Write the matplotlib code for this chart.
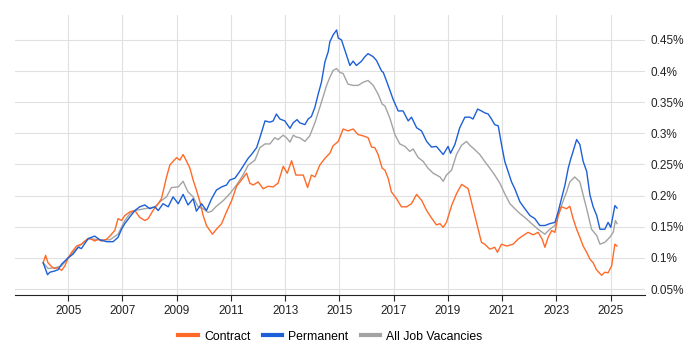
import matplotlib
matplotlib.use('Agg')
import matplotlib.pyplot as plt
from matplotlib.ticker import FixedLocator, FuncFormatter

plt.rcParams['font.family'] = ['Liberation Sans', 'DejaVu Sans']

# values (percent of all IT job ads)
contract_years = [2004.08, 2004.17, 2004.26, 2004.39, 2004.51, 2004.63, 2004.76, 2004.88, 2005.00, 2005.13,
                  2005.31, 2005.49, 2005.62, 2005.74, 2005.86, 2005.98, 2006.11, 2006.23, 2006.42, 2006.54,
                  2006.72, 2006.84, 2006.97, 2007.09, 2007.28, 2007.46, 2007.64, 2007.83, 2007.95, 2008.13,
                  2008.32, 2008.44, 2008.63, 2008.75, 2008.87, 2009.00, 2009.12, 2009.24, 2009.37, 2009.49,
                  2009.61, 2009.73, 2009.86, 2009.98, 2010.10, 2010.32, 2010.47, 2010.66, 2010.84, 2011.03,
                  2011.21, 2011.39, 2011.58, 2011.70, 2011.82, 2012.01, 2012.19, 2012.37, 2012.56, 2012.74,
                  2012.93, 2013.08, 2013.24, 2013.40, 2013.48, 2013.67, 2013.83, 2013.97, 2014.10, 2014.28,
                  2014.47, 2014.65, 2014.77, 2014.96, 2015.14, 2015.32, 2015.51, 2015.69, 2015.88, 2016.06,
                  2016.19, 2016.31, 2016.43, 2016.58, 2016.68, 2016.80, 2016.92, 2017.11, 2017.29, 2017.48,
                  2017.66, 2017.85, 2018.04, 2018.22, 2018.40, 2018.58, 2018.71, 2018.83, 2018.95, 2019.14,
                  2019.32, 2019.51, 2019.69, 2019.75, 2019.87, 2020.06, 2020.24, 2020.36, 2020.55, 2020.73,
                  2020.83, 2020.98, 2021.17, 2021.41, 2021.59, 2021.78, 2021.96, 2022.15, 2022.33, 2022.48,
                  2022.58, 2022.70, 2022.83, 2022.95, 2023.07, 2023.19, 2023.38, 2023.50, 2023.62, 2023.75,
                  2023.87, 2023.99, 2024.12, 2024.24, 2024.36, 2024.48, 2024.67, 2024.79, 2024.91, 2025.04,
                  2025.16, 2025.24]
contract_vals = [0.092, 0.104, 0.092, 0.086, 0.083, 0.084, 0.080, 0.087, 0.100, 0.109,
                 0.119, 0.122, 0.127, 0.131, 0.130, 0.127, 0.130, 0.127, 0.130, 0.135,
                 0.144, 0.163, 0.160, 0.168, 0.174, 0.176, 0.165, 0.160, 0.163, 0.176,
                 0.187, 0.195, 0.230, 0.249, 0.255, 0.261, 0.257, 0.266, 0.255, 0.244,
                 0.225, 0.209, 0.190, 0.168, 0.152, 0.138, 0.146, 0.155, 0.174, 0.192,
                 0.215, 0.225, 0.236, 0.220, 0.217, 0.222, 0.211, 0.215, 0.214, 0.220,
                 0.247, 0.236, 0.256, 0.233, 0.233, 0.233, 0.213, 0.233, 0.230, 0.249,
                 0.260, 0.268, 0.280, 0.287, 0.307, 0.304, 0.307, 0.298, 0.296, 0.293,
                 0.278, 0.277, 0.266, 0.244, 0.241, 0.228, 0.206, 0.195, 0.182, 0.182,
                 0.187, 0.202, 0.192, 0.176, 0.164, 0.153, 0.155, 0.149, 0.157, 0.184,
                 0.203, 0.218, 0.213, 0.211, 0.190, 0.157, 0.125, 0.122, 0.114, 0.117,
                 0.109, 0.122, 0.119, 0.122, 0.130, 0.136, 0.141, 0.137, 0.141, 0.130,
                 0.117, 0.133, 0.144, 0.141, 0.168, 0.182, 0.179, 0.183, 0.163, 0.146,
                 0.133, 0.119, 0.109, 0.098, 0.092, 0.081, 0.072, 0.077, 0.076, 0.087,
                 0.122, 0.119]

perm_years = [2004.08, 2004.24, 2004.33, 2004.51, 2004.63, 2004.76, 2004.88, 2005.00, 2005.18, 2005.37,
              2005.49, 2005.74, 2005.98, 2006.17, 2006.42, 2006.66, 2006.84, 2006.97, 2007.09, 2007.28,
              2007.46, 2007.64, 2007.83, 2008.01, 2008.20, 2008.32, 2008.50, 2008.69, 2008.87, 2009.06,
              2009.24, 2009.42, 2009.61, 2009.73, 2009.92, 2010.10, 2010.29, 2010.47, 2010.66, 2010.84,
              2010.96, 2011.15, 2011.33, 2011.52, 2011.64, 2011.76, 2011.95, 2012.07, 2012.26, 2012.44,
              2012.56, 2012.68, 2012.81, 2012.99, 2013.18, 2013.30, 2013.44, 2013.54, 2013.73, 2013.85,
              2013.97, 2014.10, 2014.22, 2014.34, 2014.47, 2014.59, 2014.65, 2014.77, 2014.90, 2014.96,
              2015.08, 2015.20, 2015.39, 2015.51, 2015.63, 2015.82, 2015.94, 2016.06, 2016.25, 2016.37,
              2016.56, 2016.62, 2016.80, 2016.98, 2017.17, 2017.35, 2017.54, 2017.66, 2017.85, 2018.03,
              2018.22, 2018.40, 2018.58, 2018.83, 2019.01, 2019.10, 2019.26, 2019.44, 2019.63, 2019.81,
              2019.93, 2020.10, 2020.24, 2020.36, 2020.49, 2020.61, 2020.73, 2020.86, 2020.98, 2021.10,
              2021.22, 2021.35, 2021.47, 2021.66, 2021.84, 2022.03, 2022.21, 2022.39, 2022.58, 2022.76,
              2022.95, 2023.07, 2023.19, 2023.32, 2023.44, 2023.54, 2023.62, 2023.75, 2023.87, 2023.99,
              2024.12, 2024.24, 2024.36, 2024.49, 2024.61, 2024.79, 2024.91, 2025.01, 2025.16, 2025.24]
perm_vals = [0.092, 0.073, 0.077, 0.079, 0.081, 0.090, 0.095, 0.100, 0.106, 0.117,
             0.115, 0.131, 0.135, 0.129, 0.126, 0.126, 0.133, 0.146, 0.155, 0.166,
             0.176, 0.182, 0.185, 0.179, 0.182, 0.176, 0.187, 0.182, 0.198, 0.187,
             0.202, 0.185, 0.195, 0.175, 0.187, 0.176, 0.195, 0.209, 0.214, 0.217,
             0.225, 0.228, 0.239, 0.252, 0.260, 0.266, 0.277, 0.293, 0.320, 0.318,
             0.320, 0.331, 0.323, 0.320, 0.308, 0.317, 0.322, 0.317, 0.314, 0.323,
             0.327, 0.342, 0.363, 0.382, 0.415, 0.431, 0.447, 0.458, 0.466, 0.453,
             0.450, 0.434, 0.409, 0.416, 0.409, 0.416, 0.423, 0.428, 0.423, 0.417,
             0.400, 0.398, 0.377, 0.355, 0.336, 0.336, 0.320, 0.326, 0.309, 0.304,
             0.287, 0.278, 0.279, 0.266, 0.279, 0.268, 0.282, 0.309, 0.326, 0.326,
             0.323, 0.339, 0.336, 0.333, 0.331, 0.323, 0.314, 0.312, 0.282, 0.255,
             0.239, 0.222, 0.211, 0.190, 0.179, 0.168, 0.163, 0.152, 0.152, 0.155,
             0.157, 0.174, 0.195, 0.217, 0.244, 0.260, 0.271, 0.290, 0.282, 0.255,
             0.239, 0.201, 0.182, 0.168, 0.146, 0.146, 0.157, 0.149, 0.184, 0.180]

all_years = [2004.08, 2004.26, 2004.51, 2004.76, 2005.00, 2005.31, 2005.74, 2006.17, 2006.54, 2006.84,
             2007.09, 2007.28, 2007.46, 2007.83, 2008.20, 2008.44, 2008.63, 2008.81, 2009.06, 2009.24,
             2009.42, 2009.61, 2009.79, 2009.98, 2010.16, 2010.29, 2010.47, 2010.72, 2010.96, 2011.21,
             2011.45, 2011.64, 2011.89, 2012.07, 2012.26, 2012.44, 2012.62, 2012.74, 2012.93, 2013.05,
             2013.18, 2013.30, 2013.42, 2013.54, 2013.73, 2013.91, 2014.10, 2014.34, 2014.53, 2014.65,
             2014.77, 2014.90, 2015.02, 2015.14, 2015.32, 2015.51, 2015.69, 2015.88, 2016.06, 2016.25,
             2016.43, 2016.58, 2016.68, 2016.86, 2017.05, 2017.23, 2017.42, 2017.60, 2017.72, 2017.91,
             2018.09, 2018.27, 2018.46, 2018.71, 2018.83, 2018.95, 2019.14, 2019.32, 2019.51, 2019.69,
             2019.81, 2019.99, 2020.18, 2020.36, 2020.55, 2020.73, 2020.92, 2021.10, 2021.29, 2021.47,
             2021.66, 2021.84, 2022.09, 2022.33, 2022.58, 2022.76, 2022.95, 2023.01, 2023.19, 2023.38,
             2023.50, 2023.68, 2023.87, 2023.99, 2024.12, 2024.30, 2024.49, 2024.61, 2024.79, 2024.97,
             2025.10, 2025.18, 2025.24]
all_vals = [0.092, 0.083, 0.084, 0.087, 0.100, 0.115, 0.131, 0.129, 0.129, 0.138,
            0.160, 0.171, 0.176, 0.179, 0.182, 0.192, 0.198, 0.213, 0.214, 0.223,
            0.206, 0.198, 0.182, 0.179, 0.173, 0.175, 0.183, 0.192, 0.203, 0.217,
            0.233, 0.249, 0.257, 0.277, 0.283, 0.283, 0.293, 0.290, 0.297, 0.293,
            0.286, 0.297, 0.294, 0.293, 0.287, 0.296, 0.317, 0.350, 0.377, 0.390,
            0.401, 0.404, 0.398, 0.396, 0.379, 0.377, 0.377, 0.382, 0.385, 0.377,
            0.363, 0.347, 0.344, 0.325, 0.298, 0.283, 0.279, 0.271, 0.275, 0.261,
            0.255, 0.244, 0.236, 0.230, 0.223, 0.233, 0.241, 0.266, 0.281, 0.287,
            0.281, 0.274, 0.266, 0.255, 0.244, 0.233, 0.220, 0.203, 0.187, 0.179,
            0.171, 0.165, 0.155, 0.146, 0.138, 0.146, 0.152, 0.160, 0.184, 0.206,
            0.222, 0.230, 0.222, 0.201, 0.179, 0.146, 0.136, 0.122, 0.125, 0.133,
            0.141, 0.160, 0.155]

year_ticks = [2005, 2007, 2009, 2011, 2013, 2015, 2017, 2019, 2021, 2023, 2025]
pct_ticks = [0.05, 0.1, 0.15, 0.2, 0.25, 0.3, 0.35, 0.4, 0.45]


def main():
    fig = plt.figure(figsize=(7, 3.5), dpi=100)
    ax = fig.add_axes([0.021, 0.157, 0.9, 0.8])

    ax.plot(contract_years, contract_vals, color='#ff6a28', lw=1.0, label='Contract', zorder=3)
    ax.plot(perm_years, perm_vals, color='#1c5fd8', lw=1.0, label='Permanent', zorder=3)
    ax.plot(all_years, all_vals, color='#a3a3a3', lw=1.0, label='All Job Vacancies', zorder=2)

    ax.set_xlim(2003.03, 2026.26)
    ax.set_ylim(0.0403, 0.49)
    ax.xaxis.set_major_locator(FixedLocator(year_ticks))
    ax.yaxis.set_major_locator(FixedLocator(pct_ticks))
    ax.yaxis.set_major_formatter(FuncFormatter(lambda v, p: f'{v:g}%'))
    ax.yaxis.tick_right()
    ax.grid(True, color='#e0e0e0', lw=0.8)
    ax.set_axisbelow(True)

    for side in ['top', 'right', 'left']:
        ax.spines[side].set_visible(False)
    ax.spines['bottom'].set_color('#222222')
    ax.tick_params(axis='y', length=0, pad=4, labelsize=8.5, colors='#222222')
    ax.tick_params(axis='x', length=4, color='#222222', labelsize=8.5, colors='#222222')

    leg = fig.legend(loc='lower center', bbox_to_anchor=(0.472, -0.01), ncol=3, frameon=False,
                     fontsize=8.8, handlelength=1.6, columnspacing=1.0, handletextpad=0.5)
    for line in leg.get_lines():
        line.set_linewidth(3)

    fig.savefig('out.png', dpi=100)


if __name__ == '__main__':
    main()
